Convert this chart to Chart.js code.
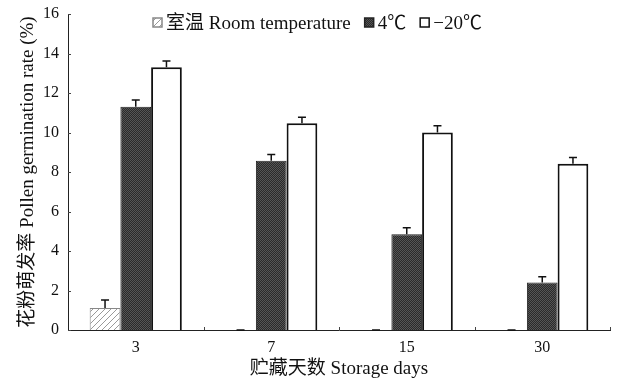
<!DOCTYPE html>
<html>
<head>
<meta charset="utf-8">
<script src="https://cdn.jsdelivr.net/npm/chart.js@4"></script>
<style>
  html, body { margin: 0; padding: 0; background: #fff; }
  #wrap { width: 620px; height: 379px; }
</style>
</head>
<body>
<div id="wrap"><canvas id="germChart" width="620" height="379"></canvas></div>
<script>
// Storage days (categories)
var storageDays = ["3", "7", "15", "30"];

// Series values (%)
var roomTemp = [1.12, 0, 0, 0];
var cold4 = [11.3, 8.57, 4.85, 2.4];
var frozen20 = [13.3, 10.47, 10.0, 8.42];

// Error bars (+)
var roomTempErr = [0.4, 0, 0, 0];
var cold4Err = [0.35, 0.32, 0.33, 0.3];
var frozen20Err = [0.32, 0.3, 0.34, 0.32];

var seriesLabels = ["室温 Room temperature", "4℃", "−20℃"];
var yTicks = [0, 2, 4, 6, 8, 10, 12, 14, 16];

var FONT = "'Liberation Serif', 'Noto Sans CJK SC', serif";

// hatch pattern for room temperature bars
function makeHatch() {
  var c = document.createElement("canvas");
  c.width = 6;
  c.height = 6;
  var g = c.getContext("2d");
  g.fillStyle = "#fff";
  g.fillRect(0, 0, 6, 6);
  g.strokeStyle = "#9a9a9a";
  g.lineWidth = 1;
  g.beginPath();
  g.moveTo(0, 6);
  g.lineTo(6, 0);
  g.moveTo(-1, 1);
  g.lineTo(1, -1);
  g.moveTo(5, 7);
  g.lineTo(7, 5);
  g.stroke();
  return g.createPattern(c, "repeat");
}

// stipple pattern for the dark bars
function makeStipple() {
  var c = document.createElement("canvas");
  c.width = 2;
  c.height = 2;
  var g = c.getContext("2d");
  g.fillStyle = "#2a2a2a";
  g.fillRect(0, 0, 2, 2);
  g.fillStyle = "#555";
  g.fillRect(0, 0, 1, 1);
  g.fillRect(1, 1, 1, 1);
  return g.createPattern(c, "repeat");
}

var hatch = makeHatch();
var stipple = makeStipple();

// draws the error bars on top of each bar
var errorBars = {
  id: "errorBars",
  afterDatasetsDraw: function (chart) {
    var ctx = chart.ctx;
    var y = chart.scales.y;
    chart.data.datasets.forEach(function (ds, di) {
      var meta = chart.getDatasetMeta(di);
      meta.data.forEach(function (bar, i) {
        var v = ds.data[i];
        var e = ds.errors[i];
        var yTop = y.getPixelForValue(v + e);
        var yBase = y.getPixelForValue(v);
        ctx.save();
        ctx.strokeStyle = "#111";
        ctx.lineWidth = 1.5;
        ctx.beginPath();
        ctx.moveTo(bar.x, yBase);
        ctx.lineTo(bar.x, yTop);
        ctx.moveTo(bar.x - 4, yTop);
        ctx.lineTo(bar.x + 4, yTop);
        ctx.stroke();
        ctx.restore();
      });
    });
  },
};

// small inward tick marks on both axes
var innerTicks = {
  id: "innerTicks",
  afterDraw: function (chart) {
    var ctx = chart.ctx;
    var xs = chart.scales.x;
    var ys = chart.scales.y;
    var area = chart.chartArea;
    ctx.save();
    ctx.strokeStyle = "#444";
    ctx.lineWidth = 1;
    ctx.beginPath();
    yTicks.forEach(function (v) {
      var py = Math.round(ys.getPixelForValue(v)) + 0.5;
      ctx.moveTo(area.left, py);
      ctx.lineTo(area.left + 3, py);
    });
    for (var i = 0; i < storageDays.length; i++) {
      var px = Math.round(xs.getPixelForValue(i + 0.5)) + 0.5;
      ctx.moveTo(px, area.bottom);
      ctx.lineTo(px, area.bottom - 3);
    }
    ctx.stroke();
    ctx.restore();
  },
};

// legend drawn inside the plot area, top
var innerLegend = {
  id: "innerLegend",
  afterDraw: function (chart) {
    var ctx = chart.ctx;
    var x = 153;
    var yc = 23;
    ctx.save();
    ctx.font = "19px " + FONT;
    ctx.textBaseline = "middle";
    chart.data.datasets.forEach(function (ds) {
      ctx.fillStyle = ds.backgroundColor;
      ctx.fillRect(x, yc - 5, 9, 9);
      ctx.strokeStyle = ds.borderColor;
      ctx.lineWidth = 1.5;
      ctx.strokeRect(x, yc - 5, 9, 9);
      x += 13;
      ctx.fillStyle = "#111";
      ctx.fillText(ds.label, x, yc + 1);
      x += ctx.measureText(ds.label).width + 14;
    });
    ctx.restore();
  },
};

var ctx = document.getElementById("germChart").getContext("2d");
var germChart = new Chart(ctx, {
  type: "bar",
  data: {
    labels: storageDays,
    datasets: [
      {
        label: seriesLabels[0],
        data: roomTemp,
        errors: roomTempErr,
        backgroundColor: hatch,
        borderColor: "#888",
        borderWidth: 1,
      },
      {
        label: seriesLabels[1],
        data: cold4,
        errors: cold4Err,
        backgroundColor: stipple,
        borderColor: "#222",
        borderWidth: 1,
      },
      {
        label: seriesLabels[2],
        data: frozen20,
        errors: frozen20Err,
        backgroundColor: "#fff",
        borderColor: "#111",
        borderWidth: 2,
      },
    ],
  },
  options: {
    responsive: false,
    animation: false,
    layout: { padding: { left: 19, right: 10, top: 0, bottom: 0 } },
    datasets: {
      bar: { categoryPercentage: 0.68, barPercentage: 1.0 },
    },
    plugins: {
      legend: { display: false },
      tooltip: { enabled: false },
    },
    scales: {
      x: {
        grid: { display: false, drawTicks: false },
        border: { display: true, color: "#222", width: 1 },
        ticks: {
          color: "#111",
          font: { family: FONT, size: 16, lineHeight: 1 },
          padding: 10,
        },
        title: {
          display: true,
          text: "贮藏天数 Storage days",
          color: "#111",
          font: { family: FONT, size: 19, lineHeight: 1 },
          padding: { top: -6, bottom: 0 },
        },
      },
      y: {
        min: 0,
        max: 16,
        afterBuildTicks: function (axis) {
          axis.ticks = yTicks.map(function (v) {
            return { value: v };
          });
        },
        // keep the top of the plot close to the canvas edge
        afterFit: function (scale) {
          scale.paddingTop = 14;
        },
        grid: { display: false, drawTicks: false },
        border: { display: true, color: "#222", width: 1 },
        ticks: { color: "#111", font: { family: FONT, size: 16 }, padding: 9 },
        title: {
          display: true,
          text: "花粉萌发率 Pollen germination rate (%)",
          color: "#111",
          font: { family: FONT, size: 19, lineHeight: 1 },
          padding: { top: 0, bottom: -4 },
        },
      },
    },
  },
  plugins: [errorBars, innerTicks, innerLegend],
});
</script>
</body>
</html>
